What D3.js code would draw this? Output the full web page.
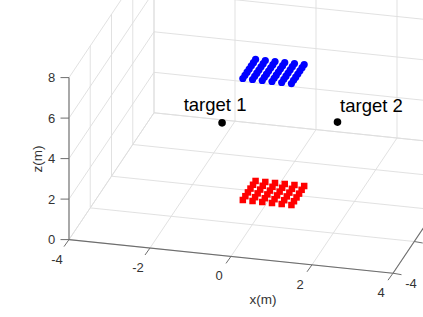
<!DOCTYPE html>
<html>
<head>
<meta charset="utf-8">
<script src="https://cdn.jsdelivr.net/npm/d3@7"></script>
<style>
    html, body { margin: 0; padding: 0; background: #fff; overflow: hidden; }
    svg { display: block; }
    text { font-family: "Liberation Sans", Arial, sans-serif; }
</style>
</head>
<body>
<svg id="chart" width="423" height="317"></svg>
<script>
var xTicks = [-4, -2, 0, 2, 4];
var yTicks = [-4, -2, 0, 2, 4];
var zTicks = [0, 2, 4, 6, 8];
// only this y label is inside the photographed window
var yLabels = [-4];

// array positions
var arrayX = [-0.6, -0.36, -0.12, 0.12, 0.36, 0.6];
var redY = [-0.6, -0.36, -0.12, 0.12, 0.36, 0.6];
var blueY = [-0.6, -0.4, -0.2, 0, 0.2, 0.4, 0.6];
var redZ = 0;
var blueZ = 6;

var targetNames = ["target 1", "target 2"];
var targetX = [-1.27, 1.58];
var targetY = [0, 0];
var targetZ = [3.2, 3.83];

// fixed oblique view, each data axis adds its own pixel offset
var xToLeft = d3.scaleLinear().domain([-4, 4]).range([-162, 162]);
var xToTop = d3.scaleLinear().domain([-4, 4]).range([-16.8, 16.8]);
var yToLeft = d3.scaleLinear().domain([-4, 4]).range([-42.5, 42.5]);
var yToTop = d3.scaleLinear().domain([-4, 4]).range([63.4, -63.4]);
var zToTop = d3.scaleLinear().domain([0, 8]).range([0, -162]);

var origem = [273.5, 193];

function project(x, y, z) {
    return [
        origem[0] + xToLeft(x) + yToLeft(y),
        origem[1] + xToTop(x) + yToTop(y) + zToTop(z)
    ];
}

var svg = d3.select("#chart");
var corEixo = "#6e6e6e";
var corGrade = "#dedede";
var corTexto = "#333333";

function addLine(group, a, b, cor, largura) {
    group.append("line")
        .attr("x1", a[0]).attr("y1", a[1])
        .attr("x2", b[0]).attr("y2", b[1])
        .attr("stroke", cor)
        .attr("stroke-width", largura);
}

// Grade
var grade = svg.append("g");
xTicks.forEach(function (x) {
    addLine(grade, project(x, -4, 0), project(x, 4, 0), corGrade, 0.9);
    addLine(grade, project(x, 4, 0), project(x, 4, 8), corGrade, 0.9);
});
yTicks.forEach(function (y) {
    addLine(grade, project(-4, y, 0), project(4, y, 0), corGrade, 0.9);
    addLine(grade, project(-4, y, 0), project(-4, y, 8), corGrade, 0.9);
});
zTicks.forEach(function (z) {
    addLine(grade, project(-4, -4, z), project(-4, 4, z), corGrade, 0.9);
    addLine(grade, project(-4, 4, z), project(4, 4, z), corGrade, 0.9);
});

// Eixos
var eixos = svg.append("g");
addLine(eixos, project(-4, -4, 0), project(4, -4, 0), corEixo, 1.1);
addLine(eixos, project(4, -4, 0), project(4, 4, 0), corEixo, 1.1);
addLine(eixos, project(-4, -4, 0), project(-4, -4, 8), corEixo, 1.1);

function addLabel(pos, dx, dy, texto, tamanho) {
    svg.append("text")
        .attr("x", pos[0] + dx)
        .attr("y", pos[1] + dy)
        .attr("text-anchor", "middle")
        .attr("dominant-baseline", "central")
        .attr("font-size", tamanho)
        .attr("fill", corTexto)
        .text(texto);
}

xTicks.forEach(function (x) {
    var p = project(x, -4, 0);
    addLine(eixos, p, [p[0] - 5, p[1] + 7], corEixo, 1);
    addLabel(p, -12, 19.5, x, 13);
});
yTicks.forEach(function (y) {
    var p = project(4, y, 0);
    addLine(eixos, p, [p[0] + 8.5, p[1] + 1.5], corEixo, 1);
});
yLabels.forEach(function (y) {
    addLabel(project(4, y, 0), 18, 10, y, 13);
});
zTicks.forEach(function (z) {
    var p = project(-4, -4, z);
    addLine(eixos, p, [p[0] - 8.5, p[1]], corEixo, 1);
    addLabel(p, -17.5, 0, z, 13);
});

addLabel([263, 299], 0, 0, "x(m)", 13.5);
svg.append("text")
    .attr("transform", "translate(37,159) rotate(-90)")
    .attr("text-anchor", "middle")
    .attr("dominant-baseline", "central")
    .attr("font-size", 13.5)
    .attr("fill", corTexto)
    .text("z(m)");

// Arranjos
function grid(xs, ys) {
    var pontos = [];
    xs.forEach(function (x) {
        ys.forEach(function (y) {
            pontos.push({ x: x, y: y });
        });
    });
    return pontos;
}

svg.append("g").selectAll("rect")
    .data(grid(arrayX, redY))
    .enter()
    .append("rect")
    .attr("x", function (d) { return project(d.x, d.y, redZ)[0] - 3.25; })
    .attr("y", function (d) { return project(d.x, d.y, redZ)[1] - 3.25; })
    .attr("width", 6.5)
    .attr("height", 6.5)
    .attr("fill", "#ff0000");

svg.append("g").selectAll("circle")
    .data(grid(arrayX, blueY))
    .enter()
    .append("circle")
    .attr("cx", function (d) { return project(d.x, d.y, blueZ)[0]; })
    .attr("cy", function (d) { return project(d.x, d.y, blueZ)[1]; })
    .attr("r", 3.6)
    .attr("fill", "#0000ff");

// Alvos
var alvoDeslocamento = [[-7, -12], [34, -10]];
targetNames.forEach(function (nome, i) {
    var p = project(targetX[i], targetY[i], targetZ[i]);
    svg.append("circle")
        .attr("cx", p[0])
        .attr("cy", p[1])
        .attr("r", 3.8)
        .attr("fill", "#000");
    svg.append("text")
        .attr("x", p[0] + alvoDeslocamento[i][0])
        .attr("y", p[1] + alvoDeslocamento[i][1])
        .attr("text-anchor", "middle")
        .attr("font-size", 18.5)
        .attr("fill", "#000")
        .text(nome);
});
</script>
</body>
</html>
